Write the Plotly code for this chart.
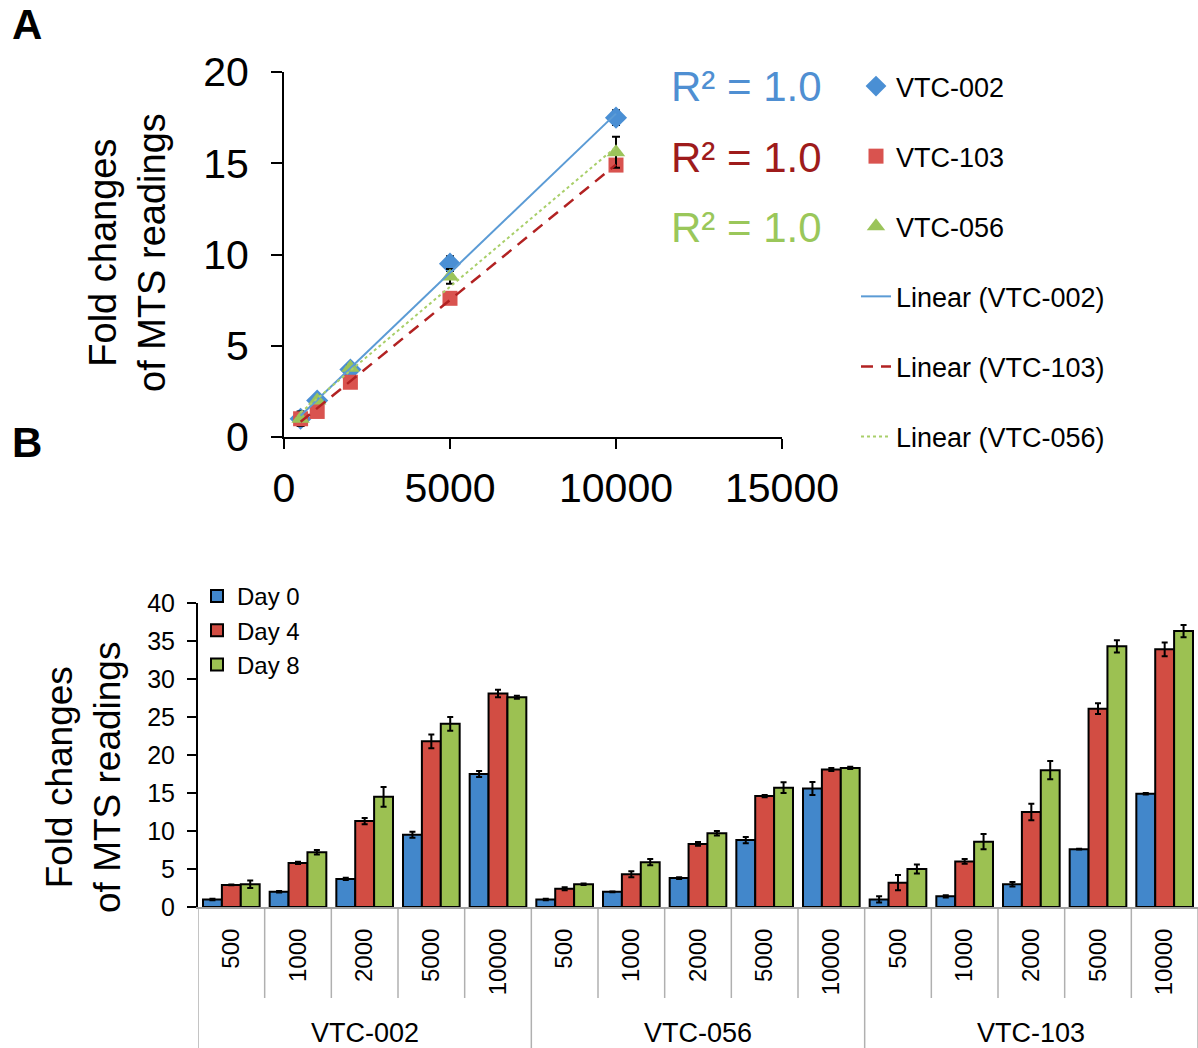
import numpy as np
import plotly.graph_objects as go

# ---------------- data ----------------
cell_lines = ["VTC-002", "VTC-056", "VTC-103"]
concentrations = ["500", "1000", "2000", "5000", "10000"]
conc_values = [500, 1000, 2000, 5000, 10000]

day0 = [1.0, 2.0, 3.7, 9.5, 17.5, 1.0, 2.0, 3.8, 8.8, 15.6, 1.0, 1.4, 3.0, 7.6, 14.9]
err0 = [0.1, 0.1, 0.15, 0.4, 0.4, 0.1, 0.05, 0.1, 0.4, 0.85, 0.4, 0.15, 0.3, 0.05, 0.1]
day4 = [2.9, 5.8, 11.3, 21.8, 28.1, 2.4, 4.3, 8.3, 14.6, 18.1, 3.2, 6.0, 12.5, 26.1, 33.9]
err4 = [0.05, 0.15, 0.4, 0.9, 0.5, 0.2, 0.4, 0.25, 0.15, 0.2, 1.0, 0.3, 1.1, 0.7, 0.9]
day8 = [3.0, 7.2, 14.5, 24.1, 27.6, 3.0, 5.9, 9.7, 15.7, 18.3, 5.0, 8.6, 18.0, 34.3, 36.3]
err8 = [0.5, 0.3, 1.3, 0.9, 0.2, 0.1, 0.4, 0.3, 0.7, 0.15, 0.6, 1.0, 1.2, 0.8, 0.8]

day_names = ["Day 0", "Day 4", "Day 8"]
r2_labels = ["R² = 1.0", "R² = 1.0", "R² = 1.0"]

# ---------------- styles ----------------
FONT = "Arial, Liberation Sans, sans-serif"
W, H = 1198, 1048
def px(xp):
    return xp / W
def py(yp):
    return 1 - yp / H

blue, red, green = "#4a8fd4", "#d9534f", "#9bc45a"
bar_cols = ["#4287cb", "#d24d43", "#9cc152"]
r2_cols = ["#4f8fd2", "#9e1b1b", "#9ac75a"]

fig = go.Figure()

# ---------------- panel A ----------------
n = len(concentrations)
series_A = [
    ("VTC-002", 0, blue, "diamond", 17, "solid", "#5b9bd5", 2),
    ("VTC-103", 2, red, "square", 15, "dash", "#b22222", 2.5),
    ("VTC-056", 1, green, "triangle-up", 16, "dot", "#a9cf6a", 2),
]
for name, gi, col, sym, size, dash, lcol, lw in series_A:
    ys = day0[gi * n:(gi + 1) * n]
    es = err0[gi * n:(gi + 1) * n]
    fig.add_trace(go.Scatter(
        x=conc_values, y=ys, mode="markers", name=name,
        marker=dict(color=col, symbol=sym, size=size),
        error_y=dict(type="data", array=es, color="black", thickness=2, width=4),
        xaxis="x", yaxis="y", legend="legend", legendgroup=name + "m",
    ))
for name, gi, col, sym, size, dash, lcol, lw in series_A:
    ys = day0[gi * n:(gi + 1) * n]
    k, b = np.polyfit(conc_values, ys, 1)
    xs = [conc_values[0], conc_values[-1]]
    fig.add_trace(go.Scatter(
        x=xs, y=[k * v + b for v in xs], mode="lines", name=f"Linear ({name})",
        line=dict(color=lcol, width=lw, dash=dash if dash != "dash" else "12px,8px"),
        xaxis="x", yaxis="y", legend="legend", legendgroup=name + "l",
    ))

# ---------------- panel B ----------------
xidx = list(range(len(cell_lines) * n))
tick_text = concentrations * len(cell_lines)
for name, vals, errs, col in zip(day_names, [day0, day4, day8], [err0, err4, err8], bar_cols):
    fig.add_trace(go.Bar(
        x=xidx, y=vals, name=name,
        marker=dict(color=col, line=dict(color="black", width=2)),
        error_y=dict(type="data", array=errs, color="black", thickness=2, width=3),
        xaxis="x2", yaxis="y2", legend="legend2",
    ))

shapes = []
for i in range(len(xidx) + 1):
    is_group = (i % n == 0)
    shapes.append(dict(
        type="line", xref="x2", yref="paper",
        x0=i - 0.5, x1=i - 0.5, y0=py(909), y1=0 if is_group else py(998),
        line=dict(color="#b0b0b0", width=1.5),
    ))

annotations = []
for gi, g in enumerate(cell_lines):
    annotations.append(dict(
        x=gi * n + (n - 1) / 2, y=py(1033), xref="x2", yref="paper",
        text=g, showarrow=False, font=dict(family=FONT, size=27, color="black"),
        xanchor="center", yanchor="middle",
    ))
for txt, yy, c in zip(r2_labels, [87, 157, 227], r2_cols):
    annotations.append(dict(
        x=px(747), y=py(yy), xref="paper", yref="paper", text=txt, showarrow=False,
        font=dict(family=FONT, size=42, color=c), xanchor="center", yanchor="middle",
    ))
annotations += [
    dict(x=px(128), y=py(253), xref="paper", yref="paper",
         text="Fold changes<br>of MTS readings", textangle=-90, showarrow=False,
         font=dict(family=FONT, size=38, color="black"), xanchor="center", yanchor="middle"),
    dict(x=px(83), y=py(778), xref="paper", yref="paper",
         text="Fold changes<br>of MTS readings", textangle=-90, showarrow=False,
         font=dict(family=FONT, size=37, color="black"), xanchor="center", yanchor="middle"),
    dict(x=px(27), y=py(25), xref="paper", yref="paper", text="<b>A</b>", showarrow=False,
         font=dict(family=FONT, size=42, color="black"), xanchor="center", yanchor="middle"),
    dict(x=px(27), y=py(443), xref="paper", yref="paper", text="<b>B</b>", showarrow=False,
         font=dict(family=FONT, size=42, color="black"), xanchor="center", yanchor="middle"),
]

fig.update_layout(
    width=W, height=H, margin=dict(l=0, r=0, t=0, b=0, pad=0, autoexpand=False),
    paper_bgcolor="white", plot_bgcolor="white",
    font=dict(family=FONT, color="black"),
    barmode="group", bargap=0.15, bargroupgap=0,
    xaxis=dict(domain=[px(284), px(782)], anchor="y", range=[0, 15000],
               tickvals=[0, 5000, 10000, 15000], tickformat="d", showgrid=False, zeroline=False,
               showline=True, linecolor="black", linewidth=2, automargin=False,
               ticks="outside", ticklen=10, tickwidth=2, tickcolor="black",
               tickfont=dict(family=FONT, size=41), ticklabelstandoff=4),
    yaxis=dict(domain=[py(437), py(72)], anchor="x", range=[0, 20], dtick=5,
               showgrid=False, zeroline=False, showline=True, linecolor="black", linewidth=2,
               automargin=False,
               ticks="outside", ticklen=11, tickwidth=2, tickcolor="black",
               tickfont=dict(family=FONT, size=41), ticklabelstandoff=14),
    xaxis2=dict(domain=[px(198), 1.0], anchor="y2", range=[-0.5, len(xidx) - 0.5],
                tickvals=xidx, ticktext=tick_text, tickangle=-90, automargin=False,
                showgrid=False, zeroline=False, showline=True, linecolor="#a0a0a0", linewidth=2,
                ticks="", tickfont=dict(family=FONT, size=24), ticklabelstandoff=10),
    yaxis2=dict(domain=[py(907), py(603)], anchor="x2", range=[0, 40], dtick=5,
                showgrid=False, zeroline=False, showline=True, linecolor="black", linewidth=2,
                automargin=False,
                ticks="outside", ticklen=9, tickwidth=2, tickcolor="black",
                tickfont=dict(family=FONT, size=25), ticklabelstandoff=7),
    legend=dict(x=px(856), y=py(62), xanchor="left", yanchor="top",
                font=dict(family=FONT, size=27), tracegroupgap=32,
                bgcolor="rgba(0,0,0,0)", traceorder="grouped"),
    legend2=dict(x=px(197), y=py(574), xanchor="left", yanchor="top",
                 font=dict(family=FONT, size=24), tracegroupgap=0,
                 bgcolor="rgba(0,0,0,0)", itemwidth=30),
    shapes=shapes, annotations=annotations,
)

fig.write_html(
    "out.html",
    config={"displayModeBar": False},
    post_script="document.documentElement.style.margin='0';document.body.style.margin='0';"
                "document.documentElement.style.overflow='hidden';document.body.style.overflow='hidden';",
)
